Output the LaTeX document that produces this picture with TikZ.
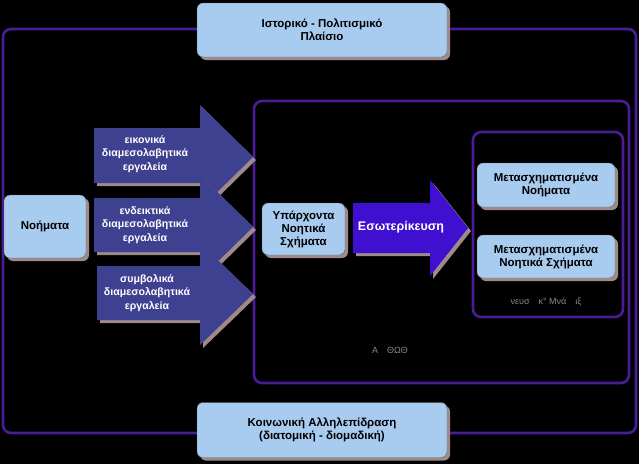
\documentclass[tikz,border=0pt]{standalone}
\usepackage{fontspec}
\setmainfont{Liberation Sans}
\usetikzlibrary{shadows}
\definecolor{bgcol}{HTML}{000000}
\definecolor{framecol}{HTML}{4A1C96}
\definecolor{boxcol}{HTML}{A8CBF0}
\definecolor{shadecol}{HTML}{9E8A88}
\definecolor{arrowcol}{HTML}{3E4090}
\definecolor{intcol}{HTML}{4010D0}
\definecolor{faintcol}{HTML}{8A8A8A}
\tikzset{
  frame/.style={draw=framecol, line width=2.6pt, rounded corners=8pt},
  lbox/.style={fill=boxcol, draw=black!60, line width=0.4pt, rounded corners=6pt,
    general shadow={fill=shadecol, shadow xshift=3pt, shadow yshift=-3pt},
    align=center, font=\fontsize{11.5}{13}\selectfont\bfseries, text=black, inner sep=1pt},
  arrshape/.style={fill=arrowcol},
  arrshadow/.style={fill=shadecol},
  arrtext/.style={align=center, text=white, font=\fontsize{10.6}{13.5}\selectfont\bfseries},
  faint/.style={text=faintcol, font=\fontsize{9}{10}\selectfont}
}
\begin{document}
\begin{tikzpicture}[x=1pt,y=-1pt]
\fill[bgcol] (0,0) rectangle (639,464);
\useasboundingbox (0,0) rectangle (639,464);
% frames
\draw[frame] (3,29) rectangle (636,433);
\draw[frame] (254,101) rectangle (629,383);
\draw[frame] (473,132) rectangle (623,317);
% dark arrows with shadows
\foreach \xl/\bt/\bb/\ht/\hb in {94/128/183/105/209, 94/198/252/175/279, 97/266/320/243/345}{
  \pgfmathsetmacro{\tipy}{(\ht+\hb)/2}
  \fill[arrshadow] (\xl+3,\bt+3) -- (203,\bt+3) -- (203,\ht+3) -- (256,\tipy+3) -- (203,\hb+3) -- (203,\bb+3) -- (\xl+3,\bb+3) -- cycle;
  \fill[arrshape] (\xl,\bt) -- (200,\bt) -- (200,\ht) -- (253,\tipy) -- (200,\hb) -- (200,\bb) -- (\xl,\bb) -- cycle;
}
\node[arrtext] (a1) at (145,154) {εικονικά\\διαμεσολαβητικά\\εργαλεία};
\node[arrtext] (a2) at (145,225) {ενδεικτικά\\διαμεσολαβητικά\\εργαλεία};
\node[arrtext] (a3) at (147,293) {συμβολικά\\διαμεσολαβητικά\\εργαλεία};
% internalisation arrow
\fill[arrshadow] (356,206) -- (433,206) -- (433,183) -- (471,231) -- (433,279) -- (433,256) -- (356,256) -- cycle;
\fill[intcol] (353,203) -- (430,203) -- (430,180) -- (468,228) -- (430,276) -- (430,253) -- (353,253) -- cycle;
\node[arrtext, font=\fontsize{12.5}{14}\selectfont\bfseries] (esw) at (401,227) {Εσωτερίκευση};
% boxes
\node[lbox, minimum width=250pt, minimum height=54pt] (top) at (322,30) {Ιστορικό - Πολιτισμικό\\Πλαίσιο};
\node[lbox, minimum width=250pt, minimum height=55pt] (bot) at (322,430) {Κοινωνική Αλληλεπίδραση\\(διατομική - διομαδική)};
\node[lbox, minimum width=82pt, minimum height=63pt] (noim) at (45,226.5) {Νοήματα};
\node[lbox, minimum width=83pt, minimum height=52pt] (yparx) at (303.5,229) {Υπάρχοντα\\Νοητικά\\Σχήματα};
\node[lbox, minimum width=138pt, minimum height=44pt] (mn) at (546,185) {Μετασχηματισμένα\\Νοήματα};
\node[lbox, minimum width=138pt, minimum height=43pt] (ms) at (546,256.5) {Μετασχηματισμένα\\Νοητικά Σχήματα};
% faint labels
\node[faint] (atomo) at (390,350) {Α\quad ΘΩΘ};
\node[faint] (nea) at (546,302) {νευσ\quad κ° Μνά\quad ιξ};
\end{tikzpicture}
\end{document}
